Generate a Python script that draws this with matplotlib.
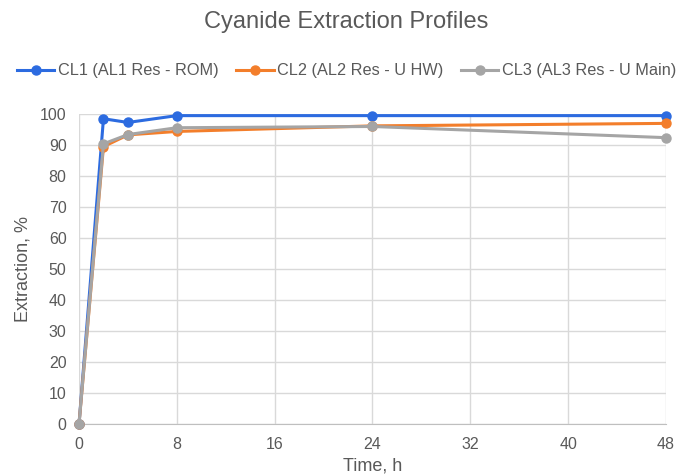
import matplotlib
matplotlib.use("Agg")
import matplotlib.pyplot as plt

plt.rcParams['font.family'] = ['Liberation Sans', 'DejaVu Sans']

time_h = [0, 2, 4, 8, 24, 48]
cl1 = [0, 98.4, 97.2, 99.4, 99.4, 99.4]
cl2 = [0, 89.4, 93.2, 94.3, 96.1, 96.9]
cl3 = [0, 90.3, 93.3, 95.5, 95.9, 92.3]
labels = ["CL1 (AL1 Res - ROM)", "CL2 (AL2 Res - U HW)", "CL3 (AL3 Res - U Main)"]
colors = ["#2C6BE0", "#F37E2B", "#A5A5A5"]

txt = "#595959"
fig = plt.figure(figsize=(6.93, 4.76), dpi=100)
ax = fig.add_axes([0.114, 0.109, 0.847, 0.652])

for ys, lab, c in zip([cl1, cl2, cl3], labels, colors):
    ax.plot(time_h, ys, color=c, lw=2.2, marker='o', ms=6.5, label=lab,
            clip_on=False, zorder=3)

ax.set_xlim(0, 48)
ax.set_ylim(0, 100)
ax.set_xticks(range(0, 49, 8))
ax.set_yticks(range(0, 101, 10))
ax.grid(True, color="#D9D9D9", lw=1)
ax.set_axisbelow(True)
for s in ['top', 'right', 'left']:
    ax.spines[s].set_visible(False)
ax.spines['bottom'].set_color("#BFBFBF")
ax.tick_params(length=0, colors=txt, labelsize=11.5, pad=9)

ax.set_xlabel("Time, h", color=txt, fontsize=13, labelpad=4)
ax.set_ylabel("Extraction, %", color=txt, fontsize=13, labelpad=6)

fig.text(0.5, 0.954, "Cyanide Extraction Profiles", ha='center', va='center',
         color=txt, fontsize=17)
fig.legend(loc='center', bbox_to_anchor=(0.5, 0.851), ncol=3, frameon=False,
           fontsize=11.7, labelcolor=txt, handlelength=2.3, handletextpad=0.2,
           columnspacing=1.1)

fig.savefig("out.png", dpi=100)
